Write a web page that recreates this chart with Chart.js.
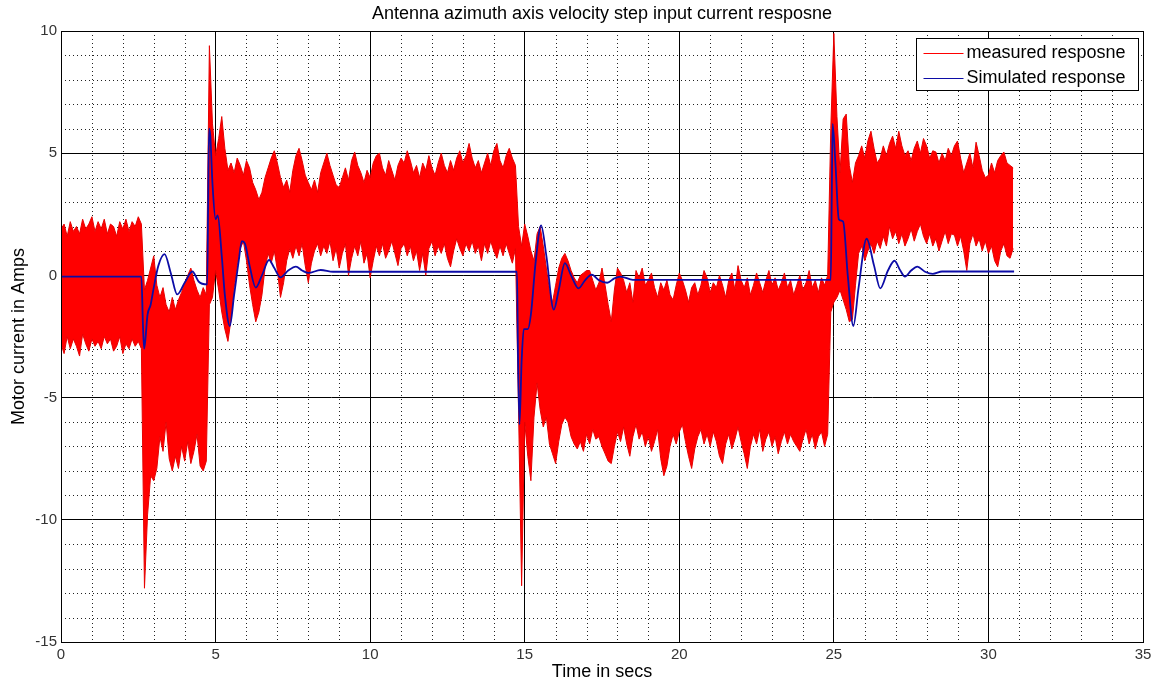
<!DOCTYPE html>
<html>
<head>
<meta charset="utf-8">
<title>Antenna azimuth axis velocity step input current resposne</title>
<script src="https://cdn.jsdelivr.net/npm/chart.js@4.4.1/dist/chart.umd.min.js"></script>
<style>
  html, body { margin: 0; padding: 0; background: #fff; }
  #wrap { width: 1156px; height: 685px; }
</style>
</head>
<body>
<div id="wrap"><canvas id="chart" width="1156" height="685"></canvas></div>
<script>
// Testi del grafico
const chartTitle = "Antenna azimuth axis velocity step input current resposne";
const xTitle = "Time in secs";
const yTitle = "Motor current in Amps";
const seriesNames = ["measured resposne", "Simulated response"];

// Tick degli assi
const xTicks = [0, 5, 10, 15, 20, 25, 30, 35];
const yTicks = [-15, -10, -5, 0, 5, 10];

// Corrente misurata: inviluppo superiore/inferiore, un valore ogni 0.1 s (da 0 a 30.8 s)
const sampleStep = 0.1;
const measuredUpper = [
    1.9, 2.1, 1.6, 2.2, 1.8, 2.0, 1.7, 2.3, 1.9, 2.1,          // 0.0 - 0.9
    2.4, 1.8, 2.2, 1.9, 2.3, 1.7, 2.1, 2.0, 1.6, 2.2,          // 1.0
    1.9, 2.3, 1.8, 2.2, 2.0, 2.4, 2.1, -0.6, -0.2, 0.3,        // 2.0
    0.8, -0.4, -0.9, -0.5, -1.2, -1.5, -0.9, -1.4, -1.0, -0.7, // 3.0
    -0.3, 0.0, 0.3, -0.2, -0.6, -0.9, -0.5, -0.8, 9.4, 6.2,    // 4.0
    4.9, 5.6, 6.5, 5.2, 4.3, 4.6, 4.2, 4.8, 4.5, 4.1,          // 5.0
    4.7, 4.4, 3.8, 3.5, 3.1, 3.4, 4.0, 4.4, 4.8, 5.1,          // 6.0
    4.6, 4.0, 3.6, 3.9, 3.4, 4.3, 4.9, 5.2, 4.7, 4.1,          // 7.0
    3.8, 3.5, 3.9, 3.4, 4.2, 4.6, 5.0, 4.5, 4.1, 3.7,          // 8.0
    3.6, 4.0, 4.4, 3.9, 4.7, 5.05, 4.5, 4.2, 3.8, 4.3,         // 9.0
    4.0, 4.6, 4.9, 5.0, 4.4, 4.1, 4.7, 4.3, 3.9, 4.5,          // 10.0
    4.8, 4.6, 5.1, 4.7, 4.2, 4.5, 4.0, 4.6, 4.3, 4.9,          // 11.0
    4.4, 4.1, 4.6, 5.0, 4.5, 4.2, 4.7, 4.3, 4.8, 5.1,          // 12.0
    4.6, 4.9, 5.4, 4.8, 4.4, 4.7, 4.2, 4.6, 5.0, 4.5,          // 13.0
    5.1, 5.4, 4.7, 4.4, 4.9, 5.2, 4.8, 4.5, 2.0, 1.2,          // 14.0
    2.1, 1.6, 1.0, 0.6, 1.7, 2.0, 1.2, 0.3, -0.6, -1.1,        // 15.0
    -0.4, 0.3, 0.7, 0.9, 0.6, 0.2, -0.1, -0.3, 0.0, 0.1,       // 16.0
    0.2, 0.2, -0.2, -0.6, -0.3, 0.3, -0.4, -1.2, -1.9, -0.6,   // 17.0
    0.3, 0.1, -0.2, -0.7, -0.3, -1.1, 0.2, -0.1, 0.3, -0.4,    // 18.0
    -0.2, 0.1, -0.5, -0.9, -0.3, -0.6, -0.2, -0.8, -1.0, -0.4, // 19.0
    0.1, -0.2, -0.6, -1.1, -0.5, -0.3, -0.8, -0.4, 0.2, -0.1,  // 20.0
    -0.7, -0.3, -0.5, 0.0, -0.4, -0.9, -0.2, 0.1, -0.6, 0.4,   // 21.0
    -0.2, -0.5, -0.1, -0.8, -0.4, 0.1, -0.3, -0.7, -0.2, 0.2,  // 22.0
    -0.4, -0.1, -0.6, -0.3, 0.1, -0.5, -0.2, -0.8, -0.4, 0.0,  // 23.0
    -0.6, -0.3, 0.2, -0.5, -0.2, -0.7, -0.1, -0.4, 0.0, 6.0,   // 24.0
    9.9, 6.5, 4.2, 6.4, 6.6, 4.5, 3.8, 4.6, 4.9, 5.3,          // 25.0
    4.8, 5.5, 5.9, 5.2, 4.6, 4.8, 5.3, 4.9, 5.4, 5.7,          // 26.0
    5.2, 5.9, 5.3, 4.9, 5.1, 4.7, 5.2, 5.5, 5.0, 5.6,          // 27.0
    5.3, 4.8, 5.1, 5.05, 4.6, 5.0, 4.7, 5.2, 4.9, 5.3,         // 28.0
    5.5, 4.8, 4.2, 4.6, 5.0, 4.4, 5.45, 4.9, 4.3, 4.0,         // 29.0
    4.1, 4.6, 4.2, 4.7, 4.9, 5.05, 4.6, 4.5, 4.4               // 30.0 - 30.8
];
const measuredLower = [
    -2.8, -3.2, -2.5, -3.0, -2.6, -2.9, -3.3, -2.4, -2.8, -3.1,    // 0.0 - 0.9
    -2.6, -2.9, -2.7, -3.0, -2.5, -2.8, -2.6, -3.1, -2.9, -2.5,    // 1.0
    -3.2, -2.8, -3.0, -2.6, -2.9, -2.7, -3.0, -12.8, -9.8, -8.2,   // 2.0
    -8.4, -7.9, -6.6, -7.2, -6.0, -7.5, -8.0, -7.4, -7.9, -7.0,    // 3.0
    -7.6, -6.8, -7.7, -7.2, -6.5, -7.8, -8.0, -7.6, -1.2, -0.9,    // 4.0
    0.2, -0.6, -1.5, -2.2, -2.7, -1.8, -0.5, 0.4, 1.1, 1.4,        // 5.0
    0.6, -0.4, -1.2, -1.9, -1.5, -0.8, 0.3, 0.9, 0.5, 1.0,         // 6.0
    0.2, -0.9, -0.3, 0.6, 1.1, 0.7, 1.2, 0.8, 1.3, 0.4,            // 7.0
    -0.3, 0.5, 1.0, 1.3, 0.8, 1.2, 0.9, 1.4, 0.6, 1.1,             // 8.0
    0.3, 0.9, 1.3, 0.0, 0.7, 1.2, 0.8, 1.4, 0.5, 0.9,              // 9.0
    -0.1, 0.6, 1.2, 0.8, 1.3, 0.7, 1.0, 1.4, 0.9, 0.4,             // 10.0
    1.1, 1.3, 0.8, 1.2, 0.6, 1.0, 0.2, 0.9, 0.0, 1.1,              // 11.0
    1.4, 0.8, 1.2, 0.9, 1.3, 0.7, 0.35, 1.0, 1.5, 1.1,             // 12.0
    0.8, 1.3, 1.0, 1.4, 0.9, 1.2, 0.6, 1.3, 0.9, 1.4,              // 13.0
    1.0, 0.7, 1.2, 0.8, 1.3, 0.9, 0.5, 1.1, -5.5, -12.7,           // 14.0
    -6.0, -7.4, -8.4, -5.8, -4.4, -5.5, -6.2, -5.8, -6.9, -7.3,    // 15.0
    -7.7, -6.8, -6.1, -5.8, -6.0, -6.6, -6.9, -7.1, -6.8, -7.2,    // 16.0
    -6.5, -6.9, -6.3, -6.7, -6.6, -7.0, -7.3, -7.6, -7.7, -7.0,    // 17.0
    -6.4, -6.8, -6.2, -6.9, -7.4, -6.6, -6.1, -6.7, -6.4, -7.0,    // 18.0
    -6.6, -7.2, -6.8, -6.3, -7.5, -8.2, -7.8, -7.0, -6.5, -6.9,    // 19.0
    -6.4, -6.1, -6.8, -7.4, -7.9, -7.1, -6.6, -6.3, -6.9, -6.5,    // 20.0
    -7.0, -6.4, -6.8, -7.4, -7.7, -6.9, -6.5, -7.1, -6.7, -6.2,    // 21.0
    -6.8, -7.3, -7.9, -7.0, -6.5, -6.9, -6.3, -7.2, -6.7, -6.4,    // 22.0
    -7.0, -6.6, -7.3, -6.8, -6.4, -6.9, -6.5, -6.8, -7.0, -7.2,    // 23.0
    -6.7, -6.3, -6.9, -6.5, -7.1, -6.6, -6.4, -7.0, -6.5, -1.5,    // 24.0
    -1.1, -0.9, -0.6, -1.0, -1.4, -1.9, -1.8, -0.4, 0.9, 1.2,      // 25.0
    0.6, 1.0, 1.3, 0.9, 1.4, 1.1, 1.6, 1.2, 2.0, 1.5,              // 26.0
    1.8, 1.3, 1.7, 1.2, 1.5, 1.9, 1.4, 1.8, 2.1, 1.6,              // 27.0
    1.3, 1.7, 1.2, 1.5, 1.0, 1.4, 1.8, 1.3, 1.7, 1.65,             // 28.0
    1.2, 1.6, 1.0, 0.2, 1.3, 1.7, 1.2, 1.5, 1.0, 1.4,              // 29.0
    0.9, 1.2, 0.6, 0.35, 1.0, 1.3, 0.8, 0.7, 1.1                   // 30.0 - 30.8
];

// Risposta simulata: punti (tempo, corrente)
const simTime = [
    0, 2.6, 2.65, 2.69, 2.8, 2.9, 3.0, 3.15, 3.35, 3.55, 3.76, 4.0, 4.25, 4.45, 4.73,
    4.76, 4.79, 4.83, 4.9, 5.0, 5.07, 5.2, 5.3, 5.46, 5.6, 5.75, 5.85, 5.95, 6.1, 6.3,
    6.5, 6.73, 6.9, 7.1, 7.35, 7.6, 7.8, 8.0, 8.4, 8.8, 14.75,
    14.78, 14.83, 14.9, 14.97, 15.1, 15.2, 15.35, 15.53, 15.7, 15.94, 16.1, 16.3, 16.5,
    16.74, 16.95, 17.17, 17.4, 17.67, 17.9, 18.1, 18.5, 24.9,
    24.93, 24.96, 25.05, 25.16, 25.3, 25.45, 25.63, 25.8, 26.06, 26.3, 26.5, 26.75,
    26.96, 27.15, 27.3, 27.5, 27.7, 27.95, 28.2, 28.5, 30.83
];
const simCurrent = [
    -0.05, -0.05, -2.0, -3.0, -1.6, -1.2, -0.5, 0.4, 0.87, 0.1, -0.78, -0.3, 0.16, -0.25, -0.37,
    3.0, 6.0, 5.7, 3.75, 2.3, 2.45, 0.8, -0.8, -2.07, -0.8, 0.6, 1.4, 1.3, 0.4, -0.5,
    0.0, 0.63, 0.3, -0.08, 0.2, 0.36, 0.2, 0.1, 0.22, 0.15, 0.15,
    -3.0, -6.1, -3.5, -2.2, -2.2, -1.6, 0.5, 2.05, 0.8, -1.4, -0.6, 0.5, 0.0,
    -0.53, -0.2, 0.03, -0.2, -0.3, -0.12, -0.05, -0.18, -0.18,
    3.0, 6.2, 4.6, 2.3, 2.2, 0.0, -2.07, -0.5, 1.5, 0.4, -0.53, 0.2,
    0.6, 0.2, -0.05, 0.2, 0.36, 0.15, 0.06, 0.16, 0.16
];

const fontFamily = "'Liberation Sans', Arial, Helvetica, sans-serif";
const measuredColor = "#ff0000";
const simColor = "#0c0ca6";

// Griglia secondaria tratteggiata (passo 1)
const minorGrid = {
    id: "minorGrid",
    beforeDatasetsDraw(chart) {
        const { ctx, chartArea: a, scales: { x, y } } = chart;
        ctx.save();
        ctx.strokeStyle = "#222";
        ctx.lineWidth = 1;
        ctx.setLineDash([1, 3]);
        for (let t = x.min + 1; t < x.max; t++) {
            if (t % 5 === 0) continue;
            const px = Math.round(x.getPixelForValue(t)) + 0.5;
            ctx.beginPath();
            ctx.moveTo(px, a.top);
            ctx.lineTo(px, a.bottom);
            ctx.stroke();
        }
        for (let v = y.min + 1; v < y.max; v++) {
            if (v % 5 === 0) continue;
            const py = Math.round(y.getPixelForValue(v)) + 0.5;
            ctx.beginPath();
            ctx.moveTo(a.left, py);
            ctx.lineTo(a.right, py);
            ctx.stroke();
        }
        ctx.restore();
    }
};

// Cornice, titoli e legenda in stile MATLAB
const decorations = {
    id: "decorations",
    afterDatasetsDraw(chart) {
        const { ctx, chartArea: a } = chart;
        ctx.save();
        ctx.setLineDash([]);
        ctx.strokeStyle = "#000";
        ctx.lineWidth = 1;
        ctx.strokeRect(Math.round(a.left) + 0.5, Math.round(a.top) + 0.5,
            Math.round(a.right - a.left), Math.round(a.bottom - a.top));

        // legenda
        const boxW = 222, boxH = 52;
        const bx = Math.round(a.right) - 5 - boxW + 0.5;
        const by = Math.round(a.top) + 7 + 0.5;
        ctx.fillStyle = "#fff";
        ctx.fillRect(bx, by, boxW, boxH);
        ctx.strokeRect(bx, by, boxW, boxH);
        const rows = [
            { label: seriesNames[0], color: measuredColor, y: by + 14 },
            { label: seriesNames[1], color: simColor, y: by + 39 }
        ];
        ctx.font = "18px " + fontFamily;
        ctx.textBaseline = "middle";
        ctx.textAlign = "left";
        rows.forEach(r => {
            ctx.beginPath();
            ctx.strokeStyle = r.color;
            ctx.lineWidth = 1;
            ctx.moveTo(bx + 7, Math.round(r.y) + 0.5);
            ctx.lineTo(bx + 47, Math.round(r.y) + 0.5);
            ctx.stroke();
            ctx.fillStyle = "#000";
            ctx.fillText(r.label, bx + 50, r.y + 1);
        });
        ctx.restore();
    },
    afterDraw(chart) {
        const { ctx, chartArea: a } = chart;
        ctx.save();
        ctx.fillStyle = "#000";
        ctx.font = "18px " + fontFamily;
        ctx.textAlign = "center";
        ctx.textBaseline = "middle";
        const cx = (a.left + a.right) / 2;
        ctx.fillText(chartTitle, cx, 14);
        ctx.fillText(xTitle, cx, 672);
        ctx.translate(19, (a.top + a.bottom) / 2);
        ctx.rotate(-Math.PI / 2);
        ctx.fillText(yTitle, 0, 0);
        ctx.restore();
    }
};

function buildChart() {
    const upperPts = measuredUpper.map((v, i) => ({ x: +(i * sampleStep).toFixed(1), y: v }));
    const lowerPts = measuredLower.map((v, i) => ({ x: +(i * sampleStep).toFixed(1), y: v }));
    const simPts = simTime.map((t, i) => ({ x: t, y: simCurrent[i] }));

    const ctx = document.getElementById("chart").getContext("2d");
    new Chart(ctx, {
        type: "line",
        data: {
            datasets: [
                {
                    label: seriesNames[1],
                    data: simPts,
                    borderColor: simColor,
                    borderWidth: 1.8,
                    pointRadius: 0,
                    cubicInterpolationMode: "monotone",
                    fill: false
                },
                {
                    label: seriesNames[0] + " (min)",
                    data: lowerPts,
                    borderColor: "#e60000",
                    borderWidth: 1,
                    pointRadius: 0,
                    tension: 0,
                    fill: false
                },
                {
                    label: seriesNames[0],
                    data: upperPts,
                    borderColor: "#e60000",
                    borderWidth: 1,
                    backgroundColor: measuredColor,
                    pointRadius: 0,
                    tension: 0,
                    fill: 1
                }
            ]
        },
        options: {
            responsive: false,
            animation: false,
            events: [],
            layout: { padding: { top: 31, right: 13, bottom: 0, left: 0 } },
            plugins: {
                legend: { display: false },
                title: { display: false },
                tooltip: { enabled: false },
                filler: { propagate: false }
            },
            scales: {
                x: {
                    type: "linear",
                    min: 0,
                    max: 35,
                    afterBuildTicks: scale => { scale.ticks = xTicks.map(v => ({ value: v })); },
                    afterFit: scale => { scale.height = 43; },
                    grid: { color: "#000", lineWidth: 1, drawTicks: false },
                    border: { display: false },
                    ticks: {
                        padding: 4,
                        maxRotation: 0,
                        color: "#333",
                        font: { family: fontFamily, size: 15 }
                    }
                },
                y: {
                    type: "linear",
                    min: -15,
                    max: 10,
                    afterBuildTicks: scale => { scale.ticks = yTicks.map(v => ({ value: v })); },
                    afterFit: scale => { scale.width = 61; },
                    grid: { color: "#000", lineWidth: 1, drawTicks: false },
                    border: { display: false },
                    ticks: {
                        padding: 4,
                        color: "#333",
                        font: { family: fontFamily, size: 15 }
                    }
                }
            }
        },
        plugins: [minorGrid, decorations]
    });
}

document.addEventListener("DOMContentLoaded", buildChart);
</script>
</body>
</html>
